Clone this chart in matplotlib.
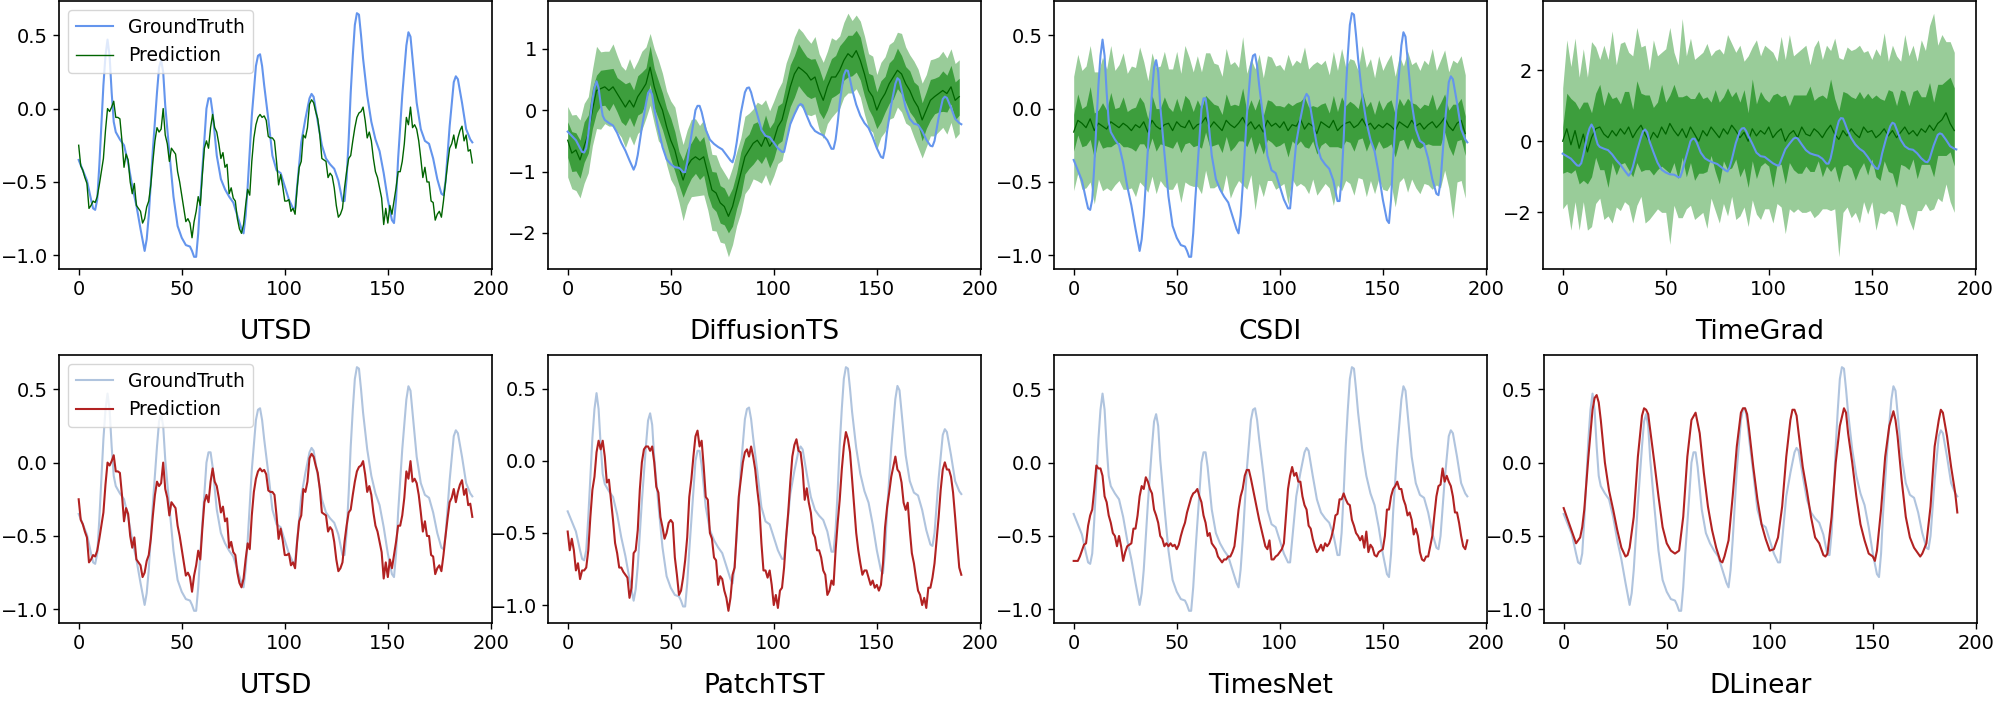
import numpy as np
import matplotlib
matplotlib.use("Agg")
import matplotlib.pyplot as plt

# ---------------- data ----------------
gt_x = [0,2,4,6,7,8,9,10,12,13,14,15,16,17,18,20,22,24,26,28,30,32,33,34,36,38,39,40,41,42,44,46,48,50,52,54,55,56,57,58,59,61,62,63,64,65,67,69,71,73,75,77,79,80,81,82,84,86,87,88,89,90,92,94,96,98,100,102,104,105,106,108,110,112,113,114,116,118,120,122,124,126,128,129,130,131,132,133,134,135,136,137,138,140,142,144,146,148,150,152,153,154,155,157,159,160,161,162,164,166,168,170,172,174,176,177,178,180,182,183,184,186,188,190,191]
gt_y = [-0.35,-0.42,-0.49,-0.62,-0.68,-0.69,-0.62,-0.39,0.16,0.36,0.47,0.36,0.11,-0.09,-0.16,-0.21,-0.25,-0.37,-0.53,-0.66,-0.82,-0.97,-0.89,-0.73,-0.28,0.11,0.28,0.33,0.25,0.02,-0.30,-0.60,-0.80,-0.88,-0.93,-0.94,-0.97,-1.01,-1.01,-0.85,-0.62,-0.21,0.0,0.07,0.07,-0.03,-0.32,-0.48,-0.55,-0.60,-0.64,-0.73,-0.82,-0.85,-0.73,-0.53,-0.05,0.29,0.36,0.37,0.29,0.16,-0.07,-0.32,-0.42,-0.44,-0.53,-0.62,-0.68,-0.68,-0.53,-0.23,-0.07,0.07,0.10,0.08,-0.09,-0.25,-0.34,-0.38,-0.41,-0.49,-0.63,-0.63,-0.48,-0.21,0.11,0.36,0.57,0.65,0.64,0.50,0.34,0.09,-0.09,-0.21,-0.29,-0.44,-0.62,-0.76,-0.78,-0.62,-0.34,0.09,0.43,0.52,0.49,0.34,0.04,-0.14,-0.22,-0.24,-0.34,-0.48,-0.58,-0.59,-0.50,-0.12,0.18,0.22,0.20,0.04,-0.14,-0.21,-0.23]

utsd_pred = [-0.25,-0.39,-0.42,-0.47,-0.51,-0.68,-0.66,-0.63,-0.64,-0.60,
-0.52,-0.43,-0.34,-0.15,0.00,-0.02,0.01,0.05,-0.06,-0.06,
-0.07,-0.22,-0.40,-0.31,-0.35,-0.50,-0.58,-0.51,-0.66,-0.68,
-0.70,-0.78,-0.75,-0.67,-0.63,-0.52,-0.36,-0.22,-0.13,-0.16,
-0.14,0.00,-0.18,-0.24,-0.36,-0.27,-0.29,-0.31,-0.43,-0.50,
-0.59,-0.68,-0.77,-0.75,-0.78,-0.88,-0.77,-0.70,-0.60,-0.66,
-0.45,-0.27,-0.22,-0.27,-0.13,-0.04,-0.13,-0.16,-0.24,-0.34,
-0.30,-0.40,-0.38,-0.58,-0.54,-0.61,-0.63,-0.75,-0.82,-0.85,
-0.79,-0.66,-0.55,-0.59,-0.36,-0.20,-0.11,-0.06,-0.04,-0.06,
-0.05,-0.08,-0.19,-0.20,-0.20,-0.22,-0.36,-0.52,-0.45,-0.53,
-0.63,-0.63,-0.62,-0.70,-0.68,-0.72,-0.54,-0.40,-0.36,-0.18,
-0.20,-0.13,0.03,0.06,0.04,-0.02,-0.07,-0.18,-0.34,-0.35,
-0.36,-0.47,-0.44,-0.46,-0.54,-0.66,-0.74,-0.72,-0.68,-0.54,
-0.43,-0.34,-0.32,-0.22,-0.13,-0.06,-0.03,-0.02,0.01,-0.08,
-0.20,-0.16,-0.22,-0.34,-0.43,-0.47,-0.54,-0.61,-0.79,-0.68,
-0.78,-0.66,-0.72,-0.63,-0.54,-0.43,-0.43,-0.36,-0.24,-0.06,
-0.11,0.01,-0.13,-0.11,-0.14,-0.22,-0.34,-0.47,-0.40,-0.50,
-0.50,-0.63,-0.64,-0.76,-0.72,-0.70,-0.74,-0.63,-0.50,-0.38,
-0.27,-0.24,-0.18,-0.27,-0.20,-0.15,-0.12,-0.22,-0.18,-0.29,
-0.28,-0.37]

patchtst_pred = [-0.49,-0.62,-0.54,-0.62,-0.76,-0.71,-0.82,-0.76,-0.76,-0.74,
-0.62,-0.39,-0.20,-0.11,0.06,0.14,0.08,0.14,0.03,-0.15,
-0.13,-0.27,-0.41,-0.57,-0.64,-0.74,-0.74,-0.77,-0.79,-0.81,
-0.95,-0.88,-0.64,-0.62,-0.48,-0.20,-0.01,0.08,0.10,0.10,
0.07,0.10,-0.01,-0.18,-0.22,-0.39,-0.46,-0.54,-0.50,-0.43,
-0.41,-0.43,-0.67,-0.79,-0.93,-0.90,-0.81,-0.69,-0.53,-0.25,
-0.13,0.03,0.17,0.21,0.10,0.14,-0.04,-0.25,-0.27,-0.50,
-0.54,-0.67,-0.69,-0.86,-0.80,-0.82,-0.90,-0.95,-1.04,-0.95,
-0.79,-0.74,-0.50,-0.25,-0.13,-0.01,0.06,0.08,0.03,0.10,
0.03,-0.06,-0.20,-0.32,-0.57,-0.76,-0.76,-0.81,-0.76,-0.86,
-1.00,-0.93,-1.02,-0.90,-0.88,-0.74,-0.53,-0.36,-0.15,0.03,
0.11,0.15,0.07,0.06,-0.06,-0.27,-0.19,-0.29,-0.36,-0.50,
-0.53,-0.62,-0.62,-0.67,-0.76,-0.79,-0.93,-0.90,-0.83,-0.86,
-0.62,-0.43,-0.27,-0.06,0.10,0.20,0.15,0.06,-0.13,-0.32,
-0.50,-0.62,-0.71,-0.79,-0.76,-0.76,-0.81,-0.86,-0.83,-0.88,
-0.86,-0.90,-0.86,-0.71,-0.46,-0.32,-0.22,-0.11,-0.04,0.03,
-0.06,-0.08,-0.15,-0.29,-0.34,-0.29,-0.48,-0.64,-0.71,-0.81,
-0.90,-0.93,-1.00,-0.95,-1.02,-0.88,-0.88,-0.81,-0.71,-0.55,
-0.39,-0.20,-0.06,-0.01,-0.06,-0.06,-0.11,-0.22,-0.39,-0.57,
-0.74,-0.79]

timesnet_pred = [-0.67,-0.67,-0.67,-0.64,-0.60,-0.56,-0.55,-0.43,-0.36,-0.32,
-0.18,-0.02,-0.04,-0.04,-0.09,-0.23,-0.27,-0.36,-0.41,-0.48,
-0.50,-0.57,-0.50,-0.57,-0.67,-0.61,-0.57,-0.56,-0.55,-0.45,
-0.45,-0.36,-0.23,-0.16,-0.18,-0.10,-0.13,-0.18,-0.21,-0.32,
-0.36,-0.41,-0.50,-0.52,-0.57,-0.55,-0.57,-0.55,-0.57,-0.56,
-0.59,-0.56,-0.50,-0.45,-0.41,-0.34,-0.29,-0.24,-0.21,-0.20,
-0.18,-0.23,-0.27,-0.36,-0.41,-0.50,-0.48,-0.55,-0.57,-0.59,
-0.64,-0.66,-0.68,-0.66,-0.66,-0.64,-0.64,-0.61,-0.57,-0.45,
-0.32,-0.23,-0.18,-0.09,-0.05,-0.05,-0.11,-0.18,-0.25,-0.32,
-0.39,-0.45,-0.51,-0.57,-0.59,-0.53,-0.66,-0.66,-0.64,-0.63,
-0.61,-0.59,-0.55,-0.36,-0.18,-0.09,-0.03,-0.09,-0.07,-0.13,
-0.13,-0.23,-0.29,-0.32,-0.43,-0.45,-0.52,-0.57,-0.61,-0.59,
-0.56,-0.60,-0.55,-0.57,-0.55,-0.51,-0.45,-0.36,-0.35,-0.25,
-0.25,-0.21,-0.25,-0.28,-0.29,-0.39,-0.43,-0.48,-0.50,-0.53,
-0.50,-0.58,-0.47,-0.61,-0.56,-0.58,-0.63,-0.64,-0.61,-0.60,
-0.59,-0.50,-0.32,-0.32,-0.23,-0.18,-0.16,-0.13,-0.18,-0.18,
-0.25,-0.29,-0.36,-0.34,-0.39,-0.49,-0.45,-0.50,-0.61,-0.66,
-0.67,-0.64,-0.64,-0.57,-0.50,-0.36,-0.23,-0.16,-0.15,-0.04,
-0.13,-0.09,-0.13,-0.16,-0.23,-0.34,-0.34,-0.41,-0.50,-0.57,
-0.59,-0.53]

dlinear_x = [0,2,4,6,8,9,10,12,14,15,16,17,18,20,22,24,26,28,30,31,32,34,36,38,39,40,41,42,44,46,48,50,52,54,56,58,60,62,64,66,68,70,72,74,76,77,78,80,82,84,86,87,88,89,90,92,94,96,98,100,102,104,106,108,110,111,112,113,114,116,118,120,122,124,126,127,128,130,132,134,136,137,138,140,142,144,146,148,150,151,152,154,156,158,160,161,162,164,166,168,170,172,173,174,176,178,180,182,183,184,186,188,190,191]
dlinear_y = [-0.31,-0.39,-0.47,-0.55,-0.51,-0.44,-0.32,0.04,0.36,0.44,0.46,0.41,0.29,0.0,-0.19,-0.32,-0.46,-0.58,-0.64,-0.63,-0.58,-0.37,0.04,0.32,0.37,0.36,0.33,0.22,0.0,-0.23,-0.44,-0.55,-0.60,-0.62,-0.60,-0.37,0.04,0.29,0.34,0.20,-0.07,-0.30,-0.46,-0.58,-0.67,-0.68,-0.64,-0.53,-0.23,0.11,0.34,0.37,0.37,0.33,0.22,-0.03,-0.25,-0.42,-0.52,-0.60,-0.59,-0.51,-0.30,0.04,0.29,0.36,0.36,0.32,0.20,-0.03,-0.19,-0.37,-0.51,-0.55,-0.63,-0.64,-0.62,-0.37,0.0,0.25,0.37,0.34,0.20,0.0,-0.23,-0.42,-0.53,-0.62,-0.64,-0.67,-0.60,-0.32,0.04,0.25,0.35,0.29,0.18,-0.12,-0.37,-0.51,-0.58,-0.62,-0.64,-0.62,-0.55,-0.30,0.11,0.29,0.36,0.34,0.18,-0.03,-0.21,-0.34]

# probabilistic models: median + inner (50%) and outer (90%) band widths, every 2nd step
dts_med = [-0.49,-0.70,-0.65,-0.81,-0.59,-0.38,0.0,0.32,0.35,0.38,0.32,0.38,0.27,0.16,0.05,0.16,0.05,0.22,0.32,0.43,0.70,0.38,0.16,0.0,-0.27,-0.49,-0.65,-0.92,-1.14,-0.92,-0.81,-0.76,-0.81,-0.76,-1.03,-1.30,-1.35,-1.51,-1.57,-1.73,-1.57,-1.30,-1.03,-0.76,-0.65,-0.54,-0.49,-0.59,-0.43,-0.59,-0.49,-0.27,-0.16,0.11,0.38,0.59,0.70,0.65,0.59,0.49,0.54,0.32,0.16,0.38,0.54,0.54,0.65,0.81,0.92,0.86,0.97,0.81,0.59,0.32,0.22,0.0,0.16,0.27,0.43,0.54,0.65,0.59,0.43,0.32,0.16,0.05,-0.16,0.0,0.16,0.22,0.27,0.32,0.27,0.38,0.16,0.22]
dts_in_up = [0.30,0.35,0.28,0.32,0.40,0.30,0.35,0.25,0.30,0.28,0.35,0.30,0.26,0.32,0.38,0.30,0.28,0.34,0.30,0.26,0.35,0.30,0.32,0.28,0.30,0.36,0.30,0.25,0.32,0.30,0.28,0.35,0.30,0.33,0.27,0.30,0.34,0.28,0.30,0.32,0.30,0.28,0.35,0.30,0.26,0.32,0.30,0.28,0.35,0.30,0.30,0.34,0.28,0.32,0.36,0.30,0.38,0.32,0.28,0.34,0.30,0.36,0.32,0.28,0.30,0.35,0.40,0.32,0.30,0.36,0.33,0.38,0.30,0.28,0.35,0.30,0.32,0.28,0.34,0.30,0.36,0.30,0.28,0.32,0.30,0.35,0.28,0.30,0.34,0.30,0.28,0.32,0.30,0.35,0.30,0.30]
dts_in_dn = [0.28,0.30,0.34,0.30,0.26,0.32,0.30,0.36,0.28,0.30,0.33,0.27,0.30,0.35,0.30,0.28,0.32,0.30,0.36,0.30,0.28,0.34,0.30,0.32,0.28,0.30,0.35,0.30,0.28,0.33,0.30,0.27,0.32,0.30,0.35,0.28,0.30,0.33,0.30,0.27,0.32,0.30,0.36,0.28,0.30,0.34,0.30,0.28,0.32,0.35,0.30,0.28,0.34,0.30,0.32,0.38,0.30,0.34,0.36,0.30,0.32,0.35,0.30,0.38,0.34,0.30,0.36,0.32,0.38,0.30,0.35,0.32,0.36,0.30,0.33,0.30,0.35,0.30,0.32,0.36,0.30,0.33,0.30,0.35,0.28,0.30,0.34,0.30,0.32,0.28,0.30,0.34,0.30,0.28,0.32,0.30]
dts_out_up = [0.55,0.62,0.58,0.65,0.70,0.60,0.66,0.72,0.60,0.58,0.64,0.70,0.62,0.56,0.60,0.68,0.62,0.58,0.64,0.60,0.55,0.62,0.66,0.60,0.58,0.64,0.70,0.62,0.58,0.60,0.66,0.62,0.56,0.60,0.64,0.58,0.62,0.60,0.55,0.60,0.64,0.62,0.58,0.66,0.60,0.56,0.62,0.68,0.60,0.58,0.64,0.60,0.62,0.66,0.58,0.60,0.64,0.62,0.58,0.60,0.66,0.60,0.62,0.58,0.64,0.60,0.56,0.62,0.66,0.60,0.58,0.64,0.62,0.60,0.66,0.58,0.62,0.60,0.64,0.58,0.62,0.66,0.60,0.58,0.64,0.62,0.60,0.58,0.66,0.62,0.60,0.64,0.58,0.62,0.60,0.60]
dts_out_dn = [0.60,0.58,0.66,0.62,0.60,0.64,0.58,0.62,0.66,0.60,0.58,0.64,0.62,0.60,0.66,0.58,0.62,0.60,0.64,0.56,0.62,0.60,0.66,0.58,0.62,0.64,0.60,0.58,0.66,0.62,0.60,0.64,0.58,0.62,0.60,0.66,0.62,0.64,0.60,0.66,0.62,0.58,0.64,0.60,0.62,0.58,0.66,0.60,0.62,0.64,0.58,0.60,0.66,0.62,0.58,0.64,0.60,0.62,0.66,0.58,0.60,0.64,0.62,0.60,0.66,0.58,0.62,0.60,0.64,0.58,0.62,0.60,0.66,0.62,0.58,0.64,0.60,0.62,0.58,0.66,0.60,0.62,0.64,0.58,0.60,0.66,0.62,0.60,0.58,0.64,0.62,0.60,0.66,0.58,0.62,0.60]

csdi_med = [-0.16,-0.08,-0.10,-0.13,-0.07,-0.15,-0.10,-0.12,-0.14,-0.09,-0.11,-0.13,-0.10,-0.12,-0.15,-0.11,-0.13,-0.09,-0.16,-0.08,-0.12,-0.14,-0.11,-0.10,-0.15,-0.09,-0.12,-0.13,-0.08,-0.14,-0.11,-0.10,-0.06,-0.13,-0.09,-0.12,-0.15,-0.08,-0.11,-0.13,-0.10,-0.06,-0.12,-0.09,-0.14,-0.11,-0.16,-0.08,-0.12,-0.10,-0.13,-0.09,-0.15,-0.11,-0.12,-0.07,-0.14,-0.10,-0.12,-0.17,-0.09,-0.11,-0.13,-0.08,-0.15,-0.12,-0.10,-0.09,-0.13,-0.11,-0.07,-0.12,-0.10,-0.14,-0.11,-0.13,-0.10,-0.12,-0.15,-0.09,-0.11,-0.13,-0.08,-0.12,-0.10,-0.14,-0.11,-0.09,-0.13,-0.10,-0.06,-0.12,-0.15,-0.10,-0.08,-0.17]
csdi_in_up = [0.12,0.18,0.10,0.15,0.22,0.12,0.09,0.16,0.13,0.20,0.11,0.14,0.18,0.10,0.15,0.12,0.21,0.13,0.09,0.17,0.12,0.14,0.19,0.11,0.13,0.16,0.10,0.22,0.14,0.12,0.17,0.10,0.15,0.19,0.12,0.14,0.11,0.18,0.13,0.16,0.12,0.20,0.10,0.15,0.13,0.18,0.11,0.14,0.17,0.12,0.15,0.10,0.19,0.13,0.16,0.12,0.22,0.11,0.14,0.18,0.12,0.15,0.10,0.17,0.13,0.20,0.12,0.14,0.16,0.11,0.19,0.13,0.15,0.10,0.17,0.12,0.14,0.18,0.11,0.16,0.13,0.20,0.12,0.15,0.10,0.17,0.13,0.19,0.12,0.14,0.16,0.11,0.18,0.13,0.15,0.12]
csdi_in_dn = [0.13,0.10,0.16,0.12,0.14,0.19,0.11,0.15,0.12,0.17,0.13,0.10,0.16,0.14,0.12,0.18,0.11,0.15,0.13,0.12,0.17,0.10,0.14,0.16,0.12,0.13,0.18,0.11,0.15,0.12,0.14,0.17,0.10,0.13,0.16,0.12,0.15,0.11,0.18,0.13,0.12,0.16,0.14,0.10,0.17,0.12,0.15,0.13,0.11,0.16,0.12,0.14,0.18,0.11,0.13,0.15,0.12,0.17,0.10,0.14,0.16,0.12,0.13,0.18,0.11,0.15,0.12,0.14,0.16,0.10,0.13,0.17,0.12,0.15,0.11,0.14,0.16,0.12,0.18,0.13,0.10,0.15,0.12,0.14,0.17,0.11,0.13,0.16,0.12,0.15,0.10,0.14,0.17,0.12,0.13,0.15]
csdi_out_up = [0.38,0.45,0.36,0.42,0.50,0.40,0.35,0.47,0.41,0.52,0.37,0.43,0.48,0.36,0.44,0.39,0.55,0.41,0.35,0.46,0.40,0.43,0.50,0.37,0.42,0.48,0.36,0.56,0.43,0.39,0.47,0.35,0.44,0.51,0.40,0.42,0.37,0.49,0.41,0.45,0.38,0.55,0.36,0.43,0.41,0.48,0.37,0.44,0.47,0.39,0.43,0.35,0.52,0.40,0.45,0.38,0.56,0.37,0.42,0.49,0.39,0.44,0.36,0.47,0.41,0.53,0.38,0.43,0.46,0.37,0.50,0.40,0.44,0.35,0.47,0.39,0.42,0.49,0.37,0.45,0.40,0.52,0.38,0.44,0.36,0.47,0.41,0.50,0.39,0.43,0.46,0.37,0.48,0.41,0.44,0.40]
csdi_out_dn = [0.40,0.36,0.45,0.41,0.43,0.50,0.38,0.44,0.40,0.47,0.41,0.36,0.45,0.43,0.39,0.49,0.37,0.44,0.41,0.38,0.46,0.35,0.42,0.45,0.40,0.41,0.52,0.37,0.44,0.39,0.42,0.48,0.36,0.41,0.45,0.40,0.43,0.37,0.50,0.41,0.39,0.46,0.43,0.36,0.55,0.40,0.44,0.41,0.37,0.45,0.40,0.42,0.50,0.37,0.41,0.44,0.39,0.48,0.36,0.42,0.46,0.40,0.41,0.58,0.37,0.44,0.39,0.42,0.46,0.36,0.41,0.48,0.39,0.44,0.37,0.42,0.46,0.39,0.52,0.41,0.36,0.44,0.40,0.42,0.48,0.37,0.41,0.46,0.39,0.44,0.36,0.42,0.60,0.40,0.41,0.44]

tg_med = [0.0,0.35,-0.1,0.3,-0.2,0.2,-0.3,0.1,0.35,0.4,0.2,0.1,0.3,0.15,0.35,0.2,0.4,0.1,0.3,0.45,0.2,0.0,0.25,0.1,0.4,0.2,0.5,0.3,0.15,0.35,0.1,0.4,0.2,0.0,0.3,0.15,0.4,0.25,0.1,0.35,0.2,0.45,0.3,0.1,0.25,0.0,0.35,0.15,0.3,0.2,0.4,0.1,0.25,0.35,0.0,0.2,0.3,0.1,0.4,0.2,0.15,0.35,0.25,0.1,0.3,0.45,0.2,0.05,0.3,0.15,0.35,0.2,0.1,0.4,0.25,0.3,0.1,0.2,0.35,0.15,0.3,0.1,0.25,0.4,0.2,0.3,0.15,0.35,0.25,0.45,0.3,0.5,0.6,0.8,0.5,0.3]
tg_in_up = [0.4,1.0,1.3,0.8,1.1,0.9,1.4,0.7,1.0,1.2,0.8,1.3,0.9,1.1,0.7,1.2,1.0,0.8,1.4,0.9,1.1,1.3,0.7,1.0,1.2,0.9,0.8,1.3,1.1,0.9,1.2,0.8,1.0,1.4,0.9,1.1,0.7,1.2,1.0,0.9,1.3,0.8,1.1,1.0,1.2,0.8,1.4,0.9,1.1,1.0,0.7,1.2,1.1,0.9,1.3,0.8,1.0,1.2,0.9,1.1,1.4,0.8,1.0,1.2,0.9,1.3,1.0,0.8,1.1,1.2,0.9,1.0,1.3,0.8,1.1,0.9,1.2,1.0,0.8,1.3,1.1,0.9,1.2,1.0,0.8,1.1,1.3,0.9,1.0,1.2,0.8,1.1,1.0,0.9,1.3,1.2]
tg_in_dn = [0.9,1.2,0.8,1.1,1.0,1.3,0.9,1.1,0.8,1.2,1.0,1.4,0.9,1.1,1.0,0.8,1.2,1.1,0.9,1.3,1.0,0.8,1.2,0.9,1.1,1.0,1.4,0.9,1.2,0.8,1.1,1.0,1.3,0.9,1.2,1.0,0.8,1.1,1.3,0.9,1.0,1.2,0.8,1.1,1.0,1.3,0.9,1.2,1.0,0.8,1.1,1.4,0.9,1.0,1.2,0.8,1.1,1.0,1.3,0.9,1.0,1.2,0.8,1.1,1.0,1.3,0.9,1.2,1.0,0.8,1.1,1.3,0.9,1.0,1.2,0.8,1.1,1.3,0.9,1.0,1.2,1.4,0.9,1.1,1.0,0.8,1.2,1.0,0.9,1.1,1.3,0.9,1.0,1.2,0.8,1.0]
tg_out_up = [1.5,2.5,2.2,2.6,2.0,2.4,2.1,2.7,2.3,1.9,2.5,2.2,2.8,2.0,2.4,2.6,2.1,2.3,2.9,2.2,2.5,2.0,2.6,2.3,2.1,2.4,2.7,2.2,2.0,3.1,2.3,2.5,2.1,2.4,2.2,2.6,2.0,2.3,2.5,2.1,2.8,2.3,2.2,2.6,2.0,2.4,2.3,2.7,2.1,2.5,2.2,2.4,2.0,2.6,2.3,2.8,2.1,2.4,2.2,2.5,2.0,2.3,2.6,2.2,2.4,2.1,2.7,2.3,2.0,2.5,2.2,2.4,2.6,2.1,2.3,2.0,2.5,2.2,2.7,2.1,2.4,2.3,2.0,2.6,2.2,2.4,2.1,2.5,2.3,2.8,3.3,2.2,2.4,2.0,2.3,2.2]
tg_out_dn = [1.9,2.1,2.4,2.0,2.3,1.9,2.2,2.5,2.1,2.0,2.4,2.2,2.6,2.0,2.3,1.9,2.2,2.4,2.1,2.0,2.5,2.2,2.3,2.0,2.4,2.2,3.4,2.1,2.3,2.5,2.0,2.2,2.4,2.1,2.3,2.6,2.0,2.2,2.4,2.1,2.3,2.0,2.5,2.2,2.1,2.4,2.0,2.2,2.5,2.1,2.3,2.4,2.0,2.2,2.6,2.1,2.3,2.0,2.4,2.2,2.1,2.5,2.3,2.0,2.2,2.4,2.1,3.3,2.3,2.0,2.5,2.2,2.4,2.1,2.3,2.0,2.6,2.2,2.4,2.1,2.3,2.5,2.0,2.2,2.4,2.8,2.1,2.3,2.0,2.4,2.2,2.1,2.3,2.0,2.2,2.3]

top_titles = ["UTSD", "DiffusionTS", "CSDI", "TimeGrad"]
bottom_titles = ["UTSD", "PatchTST", "TimesNet", "DLinear"]
legend_labels = ["GroundTruth", "Prediction"]

# ---------------- style ----------------
GT_TOP = "cornflowerblue"
GT_BOT = "lightsteelblue"
PRED_G = "darkgreen"
PRED_R = "firebrick"
BAND = "green"
TICK_FS = 14
LEG_FS = 13.5
LAB_FS = 19

plt.rcParams["font.family"] = ["DejaVu Sans"]
W, H = 1993, 714
fig = plt.figure(figsize=(W / 100, H / 100), dpi=100)

lefts = [59, 548, 1054, 1543]
ax_w = 433
rows_top = [1, 355]
ax_h = 268

def make_ax(col, row):
    l = lefts[col] + (1 if (row == 1 and col == 3) else 0)
    t = rows_top[row]
    return fig.add_axes([l / W, 1 - (t + ax_h) / H, ax_w / W, ax_h / H])

def style(ax, label):
    ax.tick_params(labelsize=TICK_FS, length=4.5, width=1.0)
    for s in ax.spines.values():
        s.set_linewidth(1.2)
    ax.set_xticks([0, 50, 100, 150, 200])
    ax.set_xlabel(label, fontsize=LAB_FS)
    ax.xaxis.set_label_coords(0.5, -0.185)

def bands(ax, med, iu, idn, ou, od):
    n = min(len(med), len(iu), len(idn), len(ou), len(od))
    m = np.array(med[:n]); x = 2 * np.arange(n)
    ax.fill_between(x, m - np.array(od[:n]), m + np.array(ou[:n]), color=BAND, alpha=0.4, lw=0)
    ax.fill_between(x, m - np.array(idn[:n]), m + np.array(iu[:n]), color=BAND, alpha=0.6, lw=0)
    ax.plot(x, m, color=PRED_G, lw=0.9)

t = np.arange(len(utsd_pred))

# top row
ax = make_ax(0, 0)
ax.plot(gt_x, gt_y, color=GT_TOP, lw=1.5, label=legend_labels[0])
ax.plot(t, utsd_pred, color=PRED_G, lw=1.0, label=legend_labels[1])
ax.legend(loc="upper left", fontsize=LEG_FS)
style(ax, top_titles[0])

ax = make_ax(1, 0)
bands(ax, dts_med, dts_in_up, dts_in_dn, dts_out_up, dts_out_dn)
ax.plot(gt_x, gt_y, color=GT_TOP, lw=1.5)
style(ax, top_titles[1])

ax = make_ax(2, 0)
bands(ax, csdi_med, csdi_in_up, csdi_in_dn, csdi_out_up, csdi_out_dn)
ax.plot(gt_x, gt_y, color=GT_TOP, lw=1.5)
style(ax, top_titles[2])

ax = make_ax(3, 0)
bands(ax, tg_med, tg_in_up, tg_in_dn, tg_out_up, tg_out_dn)
ax.plot(gt_x, gt_y, color=GT_TOP, lw=1.5)
style(ax, top_titles[3])

# bottom row
preds = [(np.arange(len(utsd_pred)), utsd_pred),
         (np.arange(len(patchtst_pred)), patchtst_pred),
         (np.arange(len(timesnet_pred)), timesnet_pred),
         (dlinear_x, dlinear_y)]
for i, (px, py) in enumerate(preds):
    ax = make_ax(i, 1)
    ax.plot(gt_x, gt_y, color=GT_BOT, lw=1.5, label=legend_labels[0])
    ax.plot(px, py, color=PRED_R, lw=1.5, label=legend_labels[1])
    if i == 0:
        ax.legend(loc="upper left", fontsize=LEG_FS)
    style(ax, bottom_titles[i])

fig.savefig("out.png", dpi=100)
